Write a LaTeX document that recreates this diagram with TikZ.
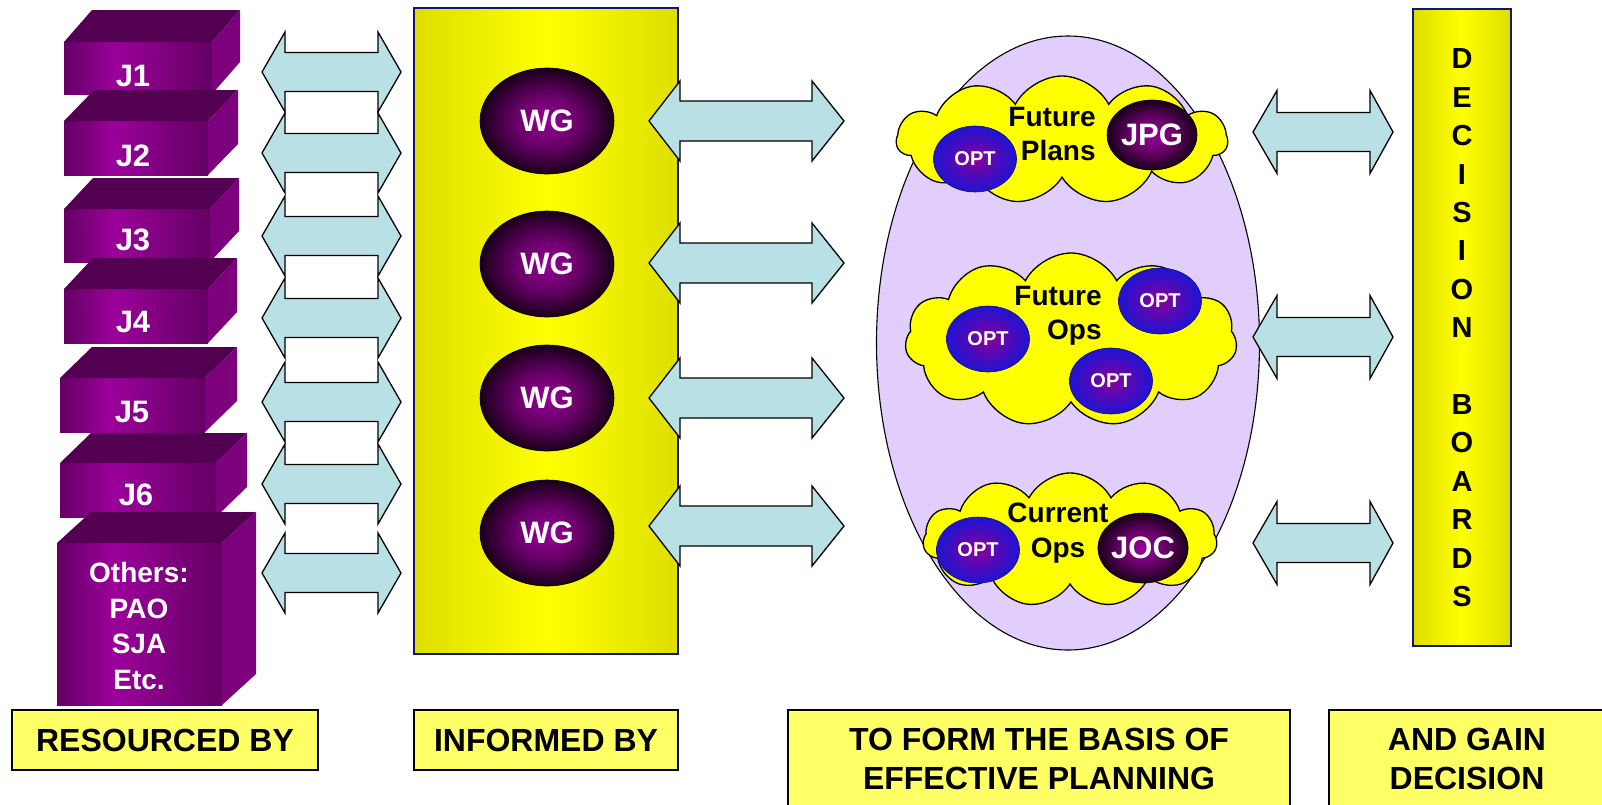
\documentclass[tikz,border=0pt]{standalone}
\usepackage{fontspec}
\setmainfont{Liberation Sans}
\usetikzlibrary{shapes.geometric,shapes.symbols}

\definecolor{arrowfill}{RGB}{185,224,228}
\definecolor{panelmid}{RGB}{255,255,0}
\definecolor{paneledge}{RGB}{222,222,0}
\definecolor{panelborder}{RGB}{20,20,120}
\definecolor{labelfill}{RGB}{255,255,102}
\definecolor{ovalfill}{RGB}{226,206,252}
\definecolor{cloudfill}{RGB}{255,255,0}
\definecolor{wgin}{RGB}{150,0,150}
\definecolor{wgmid}{RGB}{105,0,105}
\definecolor{wgout}{RGB}{25,0,25}
\definecolor{optin}{RGB}{140,0,150}
\definecolor{optmid}{RGB}{80,10,185}
\definecolor{optout}{RGB}{30,20,210}
\definecolor{boxA}{RGB}{100,0,100}
\definecolor{boxB}{RGB}{155,0,155}
\definecolor{boxC}{RGB}{112,0,112}
\definecolor{boxtop}{RGB}{84,0,82}
\definecolor{boxside}{RGB}{125,0,125}

\pgfdeclareradialshading{wgshade}{\pgfpoint{0bp}{0bp}}{color(0bp)=(wgin); color(12bp)=(wgmid); color(25bp)=(wgout); color(50bp)=(wgout)}
\pgfdeclareradialshading{optshade}{\pgfpoint{0bp}{0bp}}{color(0bp)=(optin); color(13bp)=(optmid); color(25bp)=(optout); color(50bp)=(optout)}
\pgfdeclarehorizontalshading{boxfront}{100bp}{color(0bp)=(boxA); color(25bp)=(boxA); color(42bp)=(boxB); color(68bp)=(boxC); color(75bp)=(boxA); color(100bp)=(boxA)}

% one purple 3D box: front face x1 y1 x2 y2, depth dx dy
\newcommand{\jbox}[6]{%
  \fill[shading=boxfront] (#1,#2) rectangle (#3,#4);
  \fill[boxtop] (#1,#2) -- ({#1+#5},{#2-#6}) -- ({#3+#5},{#2-#6}) -- (#3,#2) -- cycle;
  \fill[boxside] (#3,#2) -- ({#3+#5},{#2-#6}) -- ({#3+#5},{#4-#6}) -- (#3,#4) -- cycle;
}
% two-headed block arrow: left tip, left back, right back, right tip, centre y, shaft half, head half
\newcommand{\blockarrow}[7]{%
  \draw[arrowbox] (#1,#5) -- (#2,{#5-#7}) -- (#2,{#5-#6}) -- (#3,{#5-#6}) -- (#3,{#5-#7})
    -- (#4,#5) -- (#3,{#5+#7}) -- (#3,{#5+#6}) -- (#2,{#5+#6}) -- (#2,{#5+#7}) -- cycle;
}

\tikzset{
  arrowbox/.style={fill=arrowfill, draw=black, line width=1.3pt, line join=miter},
  panel/.style={draw=panelborder, line width=2pt, left color=paneledge, right color=paneledge, middle color=panelmid},
  jlabel/.style={text=white, font=\fontsize{31}{36}\selectfont\bfseries, inner sep=0pt},
  wg/.style={ellipse, shade, shading=wgshade, draw=black, line width=0.6pt, text=white,
    font=\fontsize{31}{36}\selectfont\bfseries, inner sep=0pt},
  opt/.style={ellipse, shade, shading=optshade, draw=optout!60!black, line width=0.6pt, text=white,
    font=\fontsize{20}{24}\selectfont\bfseries, minimum width=83pt, minimum height=66pt, inner sep=0pt},
  cloudbox/.style={cloud, cloud puffs=11, cloud puff arc=125, fill=cloudfill, draw=black, line width=1.3pt, inner sep=0pt},
  cloudtext/.style={font=\fontsize{28}{34}\selectfont\bfseries, inner sep=0pt},
  labelbox/.style={fill=labelfill, draw=black, line width=2.5pt},
  labeltext/.style={font=\fontsize{32}{38.5}\selectfont\bfseries, align=center, inner sep=0pt},
  dletter/.style={font=\fontsize{29}{34}\selectfont\bfseries, inner sep=0pt},
}

\begin{document}
\begin{tikzpicture}[x=1pt,y=-1pt]
\useasboundingbox (0,0) rectangle (1602,804);
\clip (0,0) rectangle (1602,804);

% resource boxes
\jbox{64}{42}{212}{94}{28}{32}
\jbox{64}{121}{208}{175}{30}{31}
\jbox{64}{209}{210}{262}{29}{31}
\jbox{64}{289}{208}{343}{29}{31}
\jbox{60}{378}{205}{432}{32}{31}
\jbox{60}{463}{216}{517}{31}{30}
\jbox{57}{543}{222}{705}{34}{31}
\node[jlabel] (j1) at (133,76) {J1};
\node[jlabel] (j2) at (133,156) {J2};
\node[jlabel] (j3) at (133,240) {J3};
\node[jlabel] (j4) at (133,322) {J4};
\node[jlabel] (j5) at (132,412) {J5};
\node[jlabel] (j6) at (136,495) {J6};
\node[jlabel, font=\fontsize{28}{35.5}\selectfont\bfseries, align=center] (others) at (139,626) {Others:\\PAO\\SJA\\Etc.};

% arrows between resources and working groups
\foreach \cy in {72,153,236,318,402,484,573}
  {\blockarrow{262}{285}{378}{401}{\cy}{19.5}{40}}

% working group panel
\draw[panel] (414,8) rectangle (678,654);
\foreach \cy [count=\i] in {121,264,398,533}
  \node[wg, minimum width=134pt, minimum height=106pt] (wg\i) at (547,\cy) {WG};

% arrows from the working groups to the planning cells
\foreach \cy in {121,263,398,526}
  {\blockarrow{649}{680}{812}{844}{\cy}{20}{40}}

% planning oval
\node[ellipse, fill=ovalfill, draw=black, line width=1.1pt, minimum width=383pt, minimum height=614pt, inner sep=0pt] (oval) at (1068,343) {};

% future plans
\node[cloudbox, minimum width=331pt, minimum height=128pt, aspect=2.6] (cfp) at (1062,140) {};
\node[opt] (opt1) at (975,159) {OPT};
\node[wg, minimum width=90pt, minimum height=70pt] (jpg) at (1152,135) {JPG};
\node[cloudtext, align=right] (tfp) at (1052,134) {Future\\Plans};

% future ops
\node[cloudbox, minimum width=332pt, minimum height=174pt, aspect=1.9] (cfo) at (1071,340) {};
\node[opt] (opt2) at (988,339) {OPT};
\node[opt] (opt3) at (1160,301) {OPT};
\node[opt] (opt4) at (1111,381) {OPT};
\node[cloudtext, align=right] (tfo) at (1058,316) {Future\\Ops};

% current ops
\node[cloudbox, minimum width=294pt, minimum height=134pt, aspect=2.2] (cco) at (1070,540) {};
\node[opt] (opt5) at (978,550) {OPT};
\node[wg, minimum width=88pt, minimum height=70pt] (joc) at (1143,548) {JOC};
\node[cloudtext, align=center, font=\fontsize{28}{35}\selectfont\bfseries] (tco) at (1058,533) {Current\\Ops};

% arrows to the decision boards
\foreach \cy in {132,337,543}
  {\blockarrow{1253}{1277}{1370}{1393}{\cy}{19.5}{41.5}}

% decision boards bar
\draw[panel] (1413,9) rectangle (1511,646);
\foreach \ch [count=\i] in {D,E,C,I,S,I,O,N,{},B,O,A,R,D,S}
  \node[dletter] (d\i) at (1462,{59+38.4*(\i-1)}) {\ch};

% captions
\draw[labelbox] (12,710) rectangle (318,770);
\node[labeltext] (cap1) at (165,740) {RESOURCED BY};
\draw[labelbox] (414,710) rectangle (678,770);
\node[labeltext] (cap2) at (546,740) {INFORMED BY};
\draw[labelbox] (788,710) rectangle (1290,830);
\node[labeltext] (cap3) at (1039,759) {TO FORM THE BASIS OF\\EFFECTIVE PLANNING};
\draw[labelbox] (1329,710) rectangle (1610,830);
\node[labeltext] (cap4) at (1467,759) {AND GAIN\\DECISION};
\end{tikzpicture}
\end{document}
